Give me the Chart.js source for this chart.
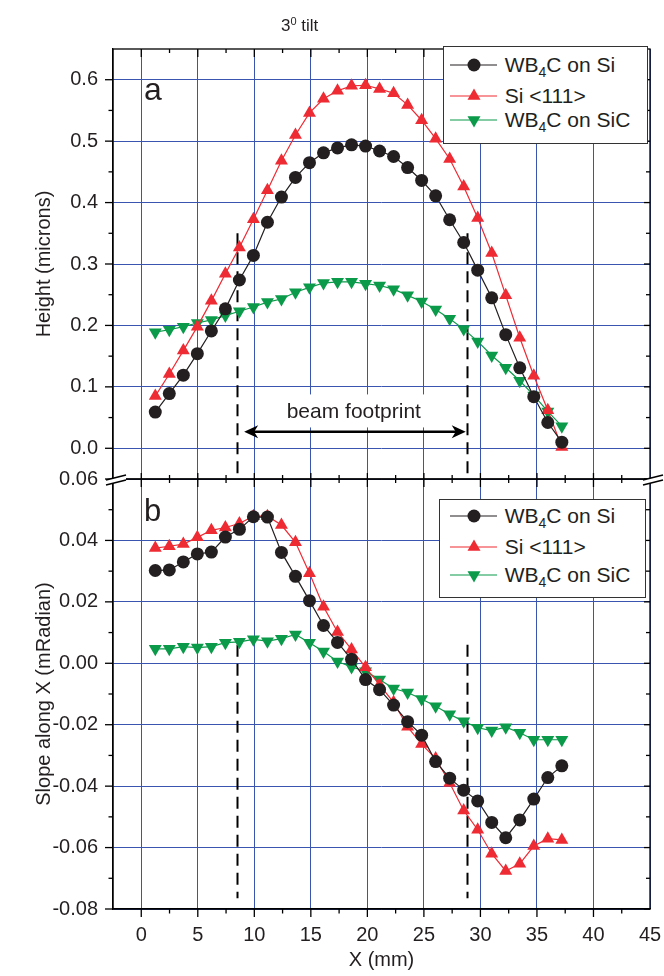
<!DOCTYPE html>
<html>
<head>
<meta charset="utf-8">
<script src="https://cdn.jsdelivr.net/npm/chart.js"></script>
<style>
  html, body { margin: 0; padding: 0; background: #fff; }
  #app { position: relative; width: 664px; height: 976px; font-family: "Liberation Sans", Arial, sans-serif; color: #231f20; }
  #app canvas { position: absolute; left: 0; top: 0; }
  .plot-title { position: absolute; left: 281px; top: 17px; font-size: 17px; line-height: 17px; white-space: nowrap; }
  .plot-title sup { font-size: 11px; vertical-align: 6px; line-height: 0; }
  .panel-tag { position: absolute; line-height: 1; }
  .legend-box { position: absolute; background: #fff; border: 1.3px solid #333; box-sizing: border-box; }
  .legend-row { position: absolute; height: 24px; line-height: 24px; display: flex; align-items: center; font-size: 21px; white-space: nowrap; }
  .legend-row svg { margin-right: 8px; flex: none; }
  .legend-row sub { font-size: 14px; vertical-align: -5px; line-height: 0; }
</style>
</head>
<body>
<div id="app">
  <canvas id="tilt-chart" width="664" height="976"></canvas>
</div>
<script>
// scan positions along the mirror (mm)
const xPos = [1.24, 2.48, 3.72, 4.96, 6.20, 7.44, 8.68, 9.92, 11.16, 12.40,
  13.64, 14.88, 16.12, 17.36, 18.60, 19.84, 21.08, 22.32, 23.56, 24.80,
  26.04, 27.28, 28.52, 29.76, 31.00, 32.24, 33.48, 34.72, 35.96, 37.20];

// panel a: height (microns)
const heightOnSi = [0.059, 0.089, 0.119, 0.154, 0.191, 0.227, 0.274, 0.314, 0.368, 0.409,
  0.441, 0.465, 0.481, 0.489, 0.494, 0.492, 0.484, 0.475, 0.457, 0.436,
  0.411, 0.372, 0.335, 0.290, 0.245, 0.185, 0.131, 0.084, 0.042, 0.010];
const heightSi111 = [0.085, 0.121, 0.159, 0.198, 0.240, 0.284, 0.327, 0.373, 0.420, 0.468,
  0.510, 0.546, 0.569, 0.582, 0.590, 0.591, 0.585, 0.578, 0.559, 0.534,
  0.504, 0.471, 0.426, 0.375, 0.318, 0.249, 0.180, 0.118, 0.062, 0.002];
const heightOnSiC = [0.189, 0.193, 0.198, 0.204, 0.209, 0.216, 0.223, 0.230, 0.238, 0.243,
  0.254, 0.262, 0.269, 0.271, 0.271, 0.268, 0.265, 0.259, 0.249, 0.239,
  0.226, 0.211, 0.194, 0.174, 0.151, 0.131, 0.110, 0.086, 0.060, 0.036];

// panel b: slope along X (mRadian)
const slopeOnSi = [0.0302, 0.0304, 0.0330, 0.0356, 0.0362, 0.0411, 0.0436, 0.0477, 0.0476, 0.0361,
  0.0283, 0.0204, 0.0123, 0.0068, 0.0013, -0.0053, -0.0086, -0.0136, -0.0190, -0.0234,
  -0.0320, -0.0374, -0.0413, -0.0448, -0.0518, -0.0568, -0.0510, -0.0442, -0.0372, -0.0334];
const slopeSi111 = [0.0375, 0.0381, 0.0388, 0.0410, 0.0433, 0.0442, 0.0455, 0.0479, 0.0479, 0.0450,
  0.0394, 0.0293, 0.0184, 0.0102, 0.0045, -0.0013, -0.0070, -0.0127, -0.0207, -0.0263,
  -0.0310, -0.0390, -0.0479, -0.0542, -0.0620, -0.0676, -0.0653, -0.0595, -0.0571, -0.0575];
const slopeOnSiC = [0.0047, 0.0047, 0.0054, 0.0051, 0.0054, 0.0067, 0.0070, 0.0078, 0.0072, 0.0080,
  0.0094, 0.0067, 0.0038, 0.0006, -0.0012, -0.0026, -0.0053, -0.0082, -0.0095, -0.0116,
  -0.0140, -0.0166, -0.0189, -0.0210, -0.0219, -0.0208, -0.0226, -0.0249, -0.0249, -0.0249];

const seriesLabels = ['WB4C on Si', 'Si <111>', 'WB4C on SiC'];

const xTicks = [0, 5, 10, 15, 20, 25, 30, 35, 40, 45];
const heightTicks = [0, 0.1, 0.2, 0.3, 0.4, 0.5, 0.6];
const slopeTicks = [-0.08, -0.06, -0.04, -0.02, 0, 0.02, 0.04, 0.06];

// beam footprint edges (mm) and the arrow between them
const footprintEdges = [8.5, 28.8];
const footprintArrow = [9.1, 28.7];

const seriesColors = ['#231f20', '#ee2a33', '#0b9a4a'];
const markerStyles = [
  { shape: 'circle', rotation: 0, radius: 6.5 },
  { shape: 'triangle', rotation: 0, radius: 7.5 },
  { shape: 'triangle', rotation: 180, radius: 7.5 }
];
const GRID_BLUE = '#3a55b0';
const INK = '#231f20';
const FONT = '"Liberation Sans", Arial, sans-serif';

function makeSet(i, values, axis) {
  const m = markerStyles[i];
  return {
    label: seriesLabels[i],
    data: values.map((v, k) => ({ x: xPos[k], y: v })),
    yAxisID: axis,
    borderColor: seriesColors[i],
    backgroundColor: seriesColors[i],
    borderWidth: 1.2,
    pointStyle: m.shape,
    pointRotation: m.rotation,
    pointRadius: m.radius,
    pointBorderWidth: 0,
    pointBackgroundColor: seriesColors[i],
    tension: 0
  };
}

function buildDatasets() {
  const sets = [];
  [heightOnSi, heightSi111, heightOnSiC].forEach((arr, i) => sets.push(makeSet(i, arr, 'yH')));
  [slopeOnSi, slopeSi111, slopeOnSiC].forEach((arr, i) => sets.push(makeSet(i, arr, 'yS')));
  return sets;
}

function midpoints(vals) {
  const out = [];
  for (let i = 1; i < vals.length; i++) out.push((vals[i - 1] + vals[i]) / 2);
  return out;
}

function seg(ctx, x1, y1, x2, y2) {
  ctx.beginPath();
  ctx.moveTo(x1, y1);
  ctx.lineTo(x2, y2);
  ctx.stroke();
}

function arrowHead(ctx, x, y, dir) {
  const len = 14, half = 6.5, notch = 4;
  ctx.beginPath();
  ctx.moveTo(x, y);
  ctx.lineTo(x - dir * len, y - half);
  ctx.lineTo(x - dir * (len - notch), y);
  ctx.lineTo(x - dir * len, y + half);
  ctx.closePath();
  ctx.fill();
}

function drawFrame(ctx, area, xs, ys, majors, outerBottom) {
  const l = area.left, r = area.right, t = ys.top, b = ys.bottom;
  ctx.strokeRect(l, t, r - l, b - t);
  majors.forEach(v => {
    const p = ys.getPixelForValue(v);
    seg(ctx, l - 8, p, l, p);
    seg(ctx, r, p, r - 6, p);
  });
  midpoints(majors).forEach(v => {
    const p = ys.getPixelForValue(v);
    seg(ctx, l - 4.5, p, l, p);
    seg(ctx, r, p, r - 4, p);
  });
  xTicks.forEach(v => {
    if (v <= xs.min || v >= xs.max) return;
    const p = xs.getPixelForValue(v);
    seg(ctx, p, t, p, t + 8);
    if (outerBottom) seg(ctx, p, b, p, b + 8);
    else seg(ctx, p, b, p, b - 6);
  });
  midpoints(xTicks).forEach(v => {
    const p = xs.getPixelForValue(v);
    seg(ctx, p, t, p, t + 4);
    if (outerBottom) seg(ctx, p, b, p, b + 4.5);
    else seg(ctx, p, b, p, b - 4);
  });
}

function drawBreak(ctx, x, y) {
  ctx.fillStyle = '#fff';
  ctx.beginPath();
  ctx.moveTo(x - 7, y + 1);
  ctx.lineTo(x + 13, y - 4);
  ctx.lineTo(x + 13, y + 1);
  ctx.lineTo(x - 7, y + 6);
  ctx.closePath();
  ctx.fill();
  seg(ctx, x - 7, y + 1, x + 13, y - 4);
  seg(ctx, x - 7, y + 6, x + 13, y + 1);
}

const panelDecor = {
  id: 'panelDecor',
  beforeDatasetsDraw(chart) {
    const { ctx } = chart;
    const xs = chart.scales.x, yH = chart.scales.yH, yS = chart.scales.yS;
    ctx.save();

    // footprint edges, dashed
    ctx.strokeStyle = '#000';
    ctx.lineWidth = 2;
    ctx.setLineDash([12, 7]);
    footprintEdges.forEach(v => {
      const p = Math.round(xs.getPixelForValue(v)) + 0.5;
      seg(ctx, p, yH.getPixelForValue(0.35), p, yH.bottom);
      seg(ctx, p, yS.getPixelForValue(0.006), p, yS.getPixelForValue(-0.0765));
    });
    ctx.setLineDash([]);

    // label with a white backing over the grid
    ctx.font = '21px ' + FONT;
    const text = 'beam footprint';
    const cx = xs.getPixelForValue(18.8);
    const cy = yH.getPixelForValue(0.06);
    const w = ctx.measureText(text).width;
    ctx.fillStyle = '#fff';
    ctx.fillRect(cx - w / 2 - 6, cy - 17, w + 12, 33);
    ctx.fillStyle = INK;
    ctx.textAlign = 'center';
    ctx.textBaseline = 'middle';
    ctx.fillText(text, cx, cy + 1);

    // double arrow
    const ay = yH.getPixelForValue(0.027);
    const a0 = xs.getPixelForValue(footprintArrow[0]);
    const a1 = xs.getPixelForValue(footprintArrow[1]);
    ctx.fillStyle = '#000';
    ctx.lineWidth = 2.5;
    seg(ctx, a0 + 8, ay, a1 - 8, ay);
    arrowHead(ctx, a0, ay, -1);
    arrowHead(ctx, a1, ay, 1);
    ctx.restore();
  },
  afterDraw(chart) {
    const { ctx, chartArea } = chart;
    const xs = chart.scales.x, yH = chart.scales.yH, yS = chart.scales.yS;
    ctx.save();
    ctx.strokeStyle = '#000';
    ctx.lineWidth = 1.3;
    drawFrame(ctx, chartArea, xs, yH, heightTicks, false);
    drawFrame(ctx, chartArea, xs, yS, slopeTicks, true);
    ctx.lineWidth = 1.5;
    drawBreak(ctx, chartArea.left, yH.bottom);
    drawBreak(ctx, chartArea.right, yH.bottom);
    ctx.restore();
  }
};

function yAxis(min, max, ticks, digits, title) {
  return {
    type: 'linear',
    position: 'left',
    stack: 'panels',
    stackWeight: 1,
    min: min,
    max: max,
    afterBuildTicks: axis => { axis.ticks = ticks.map(v => ({ value: v })); },
    afterFit: axis => { axis.width = 113; axis.paddingTop = 0; axis.paddingBottom = 0; },
    grid: { color: GRID_BLUE, lineWidth: 1, drawTicks: false },
    border: { color: '#000', width: 1.3 },
    ticks: {
      padding: 15,
      color: INK,
      font: { family: FONT, size: 20 },
      callback: v => Number(v).toFixed(digits)
    },
    title: {
      display: true,
      text: title,
      color: INK,
      font: { family: FONT, size: 20 },
      padding: { top: 32, bottom: 0 }
    }
  };
}

function renderTiltChart() {
  const ctx = document.getElementById('tilt-chart').getContext('2d');
  if (window.tiltChart) window.tiltChart.destroy();
  window.tiltChart = new Chart(ctx, {
    type: 'line',
    data: { datasets: buildDatasets() },
    options: {
      responsive: false,
      animation: false,
      layout: { padding: { top: 49, right: 14, left: 0, bottom: 0 } },
      plugins: { legend: { display: false }, tooltip: { enabled: false } },
      scales: {
        x: {
          type: 'linear',
          min: -2.5,
          max: 45,
          afterBuildTicks: axis => { axis.ticks = xTicks.map(v => ({ value: v })); },
          // keep the plot edge fixed, the last tick label may hang over it
          afterFit: axis => { axis.height = 67; axis.paddingLeft = 0; axis.paddingRight = 0; },
          grid: { color: GRID_BLUE, lineWidth: 1, drawTicks: false },
          border: { color: '#000', width: 1.3 },
          ticks: {
            padding: 14,
            color: INK,
            maxRotation: 0,
            font: { family: FONT, size: 20 },
            callback: v => String(v)
          },
          title: {
            display: true,
            text: 'X (mm)',
            color: INK,
            font: { family: FONT, size: 20 },
            padding: { top: 0, bottom: 4 }
          }
        },
        // defined first so it stacks below the height panel
        yS: yAxis(-0.08, 0.06, slopeTicks, 2, 'Slope along X (mRadian)'),
        yH: yAxis(-0.05, 0.65, heightTicks, 1, 'Height (microns)')
      }
    },
    plugins: [panelDecor]
  });
}

function legendLabel(name) {
  return name.replace(/&/g, '&amp;').replace(/</g, '&lt;').replace(/>/g, '&gt;')
    .replace('WB4C', 'WB<sub>4</sub>C');
}

function markerSvg(i) {
  const c = seriesColors[i];
  const m = markerStyles[i];
  let mark;
  if (m.shape === 'circle') {
    mark = `<circle cx="24" cy="12" r="${m.radius}" fill="${c}"/>`;
  } else {
    const r = m.radius, s = m.rotation ? -1 : 1;
    const h = r * Math.sqrt(3) / 2;
    mark = `<polygon fill="${c}" points="24,${12 - s * r} ${24 - h},${12 + s * r / 2} ${24 + h},${12 + s * r / 2}"/>`;
  }
  return `<svg width="47" height="24" viewBox="0 0 47 24">
      <line x1="0" y1="12" x2="47" y2="12" stroke="${c}" stroke-width="1.2"/>${mark}</svg>`;
}

function renderLegend(box, rowTops, rowLeft) {
  const rows = seriesLabels.map((name, i) => `
      <div class="legend-row" style="left:${rowLeft}px; top:${rowTops[i]}px;">
        ${markerSvg(i)}<span>${legendLabel(name)}</span>
      </div>`).join('');
  const html = `
    <div class="legend-box" style="left:${box.left}px; top:${box.top}px; width:${box.width}px; height:${box.height}px;">
      ${rows}
    </div>`;
  document.getElementById('app').insertAdjacentHTML('beforeend', html);
}

function renderLabels() {
  const html = `
    <div class="plot-title">3<sup>0</sup> tilt</div>
    <div class="panel-tag" style="left:144px; top:73px; font-size:32px;">a</div>
    <div class="panel-tag" style="left:144px; top:495px; font-size:31px;">b</div>
  `;
  document.getElementById('app').insertAdjacentHTML('beforeend', html);
}

renderTiltChart();
renderLabels();
renderLegend({ left: 442.7, top: 45.7, width: 205.6, height: 98.6 }, [6, 37.7, 61], 6);
renderLegend({ left: 439.3, top: 499, width: 206.4, height: 98.7 }, [4.4, 35, 62.7], 9.4);
</script>
</body>
</html>
